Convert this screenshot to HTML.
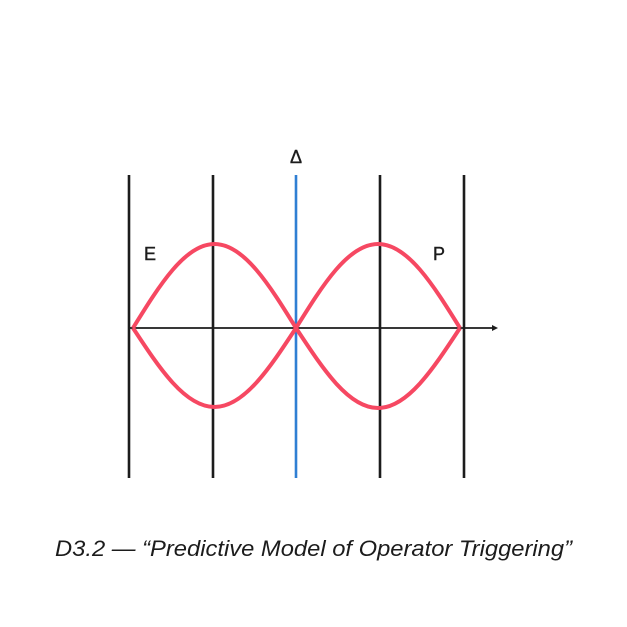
<!DOCTYPE html>
<html><head><meta charset="utf-8"><style>
html,body{margin:0;padding:0;background:#fff;}
svg{display:block}
</style></head><body>
<svg width="627" height="627" viewBox="0 0 627 627" xmlns="http://www.w3.org/2000/svg">
<rect width="627" height="627" fill="#fff"/>
<g stroke="#1c1c1c" stroke-width="2.6">
<line x1="129" y1="175" x2="129" y2="478"/>
<line x1="213" y1="175" x2="213" y2="478"/>
<line x1="380" y1="175" x2="380" y2="478"/>
<line x1="464" y1="175" x2="464" y2="478"/>
</g>
<line x1="296" y1="175" x2="296" y2="478" stroke="#2f7fd3" stroke-width="2.6"/>
<line x1="130" y1="328" x2="493" y2="328" stroke="#1c1c1c" stroke-width="1.8"/>
<path d="M492,325 L498,328 L492,331 Z" fill="#1c1c1c"/>
<g fill="none" stroke="#f64862" stroke-width="4" stroke-linejoin="round">
<path d="M133,328 C159.6,285 185,244 214.5,244 C244,244 269.4,285 296,328 C322.7,285 348.2,244 378,244 C407.8,244 433.3,285 460,328"/>
<path d="M133,328 C159.6,368.5 185,407 214.5,407 C244,407 269.4,368.5 296,328 C322.7,368.5 348.2,408 378,408 C407.8,408 433.3,368.5 460,328"/>
</g>
<g font-family="Liberation Sans, sans-serif" font-size="18" fill="#1c1c1c" text-anchor="middle" stroke="#1c1c1c" stroke-width="0.4">
<text x="150" y="260">E</text>
<text x="439" y="260">P</text>
<text x="296" y="163">Δ</text>
</g>
<text x="55" y="556" textLength="517" lengthAdjust="spacingAndGlyphs" font-family="Liberation Sans, sans-serif" font-style="italic" font-size="22" fill="#1c1c1c">D3.2 — “Predictive Model of Operator Triggering”</text>
</svg>
</body></html>
